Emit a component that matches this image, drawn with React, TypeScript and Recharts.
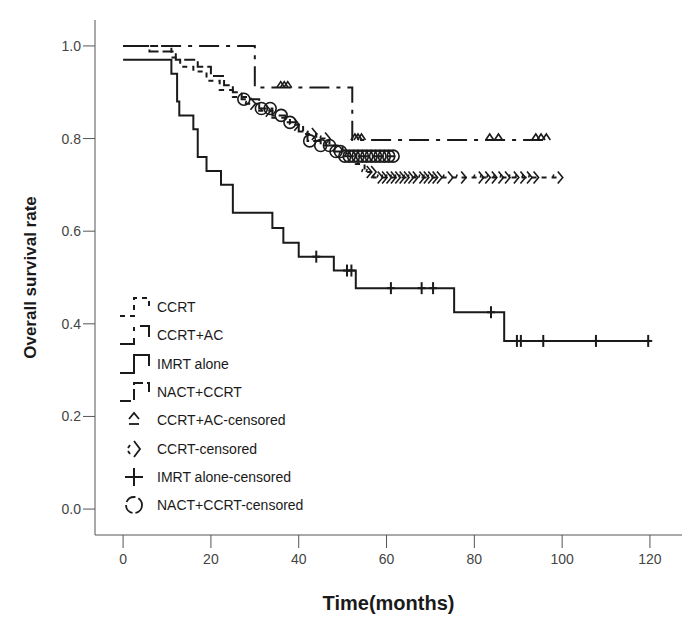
import React from "react";
import { ComposedChart, Line, Scatter, XAxis, YAxis } from "recharts";

// step curves: time (months) where survival changes, and the rate after that time
const ccrtAcTimes = [0, 30, 52.2, 97];
const ccrtAcRates = [1.0, 0.91, 0.797, 0.797];
const ccrtAcCensor = [35.9, 36.7, 37.5, 52.8, 53.5, 54.3, 83.5, 85.5, 94.0, 95.2, 96.4];

const nactTimes = [0, 6, 12, 17, 20, 23, 25, 27, 31, 34, 37, 40, 42, 45, 48, 50, 62];
const nactRates = [1.0, 0.988, 0.97, 0.955, 0.935, 0.915, 0.9, 0.885, 0.865, 0.85, 0.835, 0.815, 0.795, 0.785, 0.772, 0.762, 0.762];
const nactCensor = [27.5, 31.5, 33.5, 36, 38, 42.5, 45, 47, 48.5, 49.5, 50.5, 51.5, 52.5, 53.5, 54.5, 55.5, 56.5, 57.5, 58.5, 59.5, 60.5, 61.5];

const ccrtTimes = [0, 11, 13, 16, 19, 22, 25, 28, 31, 34, 38, 41, 44, 47, 50, 53, 55, 57, 99];
const ccrtRates = [1.0, 0.975, 0.955, 0.945, 0.925, 0.905, 0.89, 0.875, 0.86, 0.845, 0.83, 0.81, 0.8, 0.785, 0.768, 0.745, 0.728, 0.716, 0.716];
const ccrtCensor = [29, 32.5, 39, 43, 46, 55.5, 56.5, 58, 59, 60, 61, 62, 63, 64, 65, 66, 67.5, 68.5, 69.5, 70.5, 71.5, 74, 77, 81, 82.5, 84, 85.5, 87, 89, 90.5, 92, 93.5, 99];

const imrtTimes = [0, 11, 12.3, 12.8, 16, 17, 19, 22.3, 25, 34, 36.5, 40, 48, 53, 75.4, 86.8, 120];
const imrtRates = [0.97, 0.94, 0.88, 0.85, 0.82, 0.76, 0.73, 0.7, 0.64, 0.607, 0.575, 0.545, 0.515, 0.477, 0.425, 0.363, 0.363];
const imrtCensor = [44, 51, 52, 61, 68, 70.6, 83.8, 89.7, 90.6, 95.7, 107.7, 119.6];

const xTicks = [0, 20, 40, 60, 80, 100, 120];
const yTicks = [0, 0.2, 0.4, 0.6, 0.8, 1.0];

const FONT = '"Liberation Sans", Arial, sans-serif';
const INK = "#1a1a1a";

const toSteps = (times: number[], rates: number[]) =>
  times.map((t, i) => ({ t, s: rates[i] }));

const rateAt = (times: number[], rates: number[], t: number) => {
  let s = rates[0];
  for (let i = 0; i < times.length; i++) if (times[i] <= t) s = rates[i];
  return s;
};

const toCensor = (marks: number[], times: number[], rates: number[]) =>
  marks.map((t) => ({ t, s: rateAt(times, rates, t) }));

// censor mark shapes
const PlusMark = ({ cx, cy }: any) => (
  <g stroke={INK} strokeWidth={2}>
    <line x1={cx} y1={cy - 6} x2={cx} y2={cy + 6} />
    <line x1={cx - 4} y1={cy} x2={cx + 4} y2={cy} />
  </g>
);
const CaretMark = ({ cx, cy }: any) => (
  <path d={`M${cx - 4},${cy} L${cx},${cy - 6} L${cx + 4},${cy}`} fill="none" stroke={INK} strokeWidth={1.6} />
);
const ChevronMark = ({ cx, cy }: any) => (
  <g fill="none" stroke={INK} strokeWidth={1.6}>
    <path d={`M${cx},${cy - 6} L${cx + 5},${cy} L${cx},${cy + 6}`} />
    <path d={`M${cx - 4},${cy - 3} L${cx - 5},${cy}`} />
  </g>
);
const CircleMark = ({ cx, cy }: any) => (
  <circle cx={cx} cy={cy} r={6} fill="none" stroke={INK} strokeWidth={1.6} />
);

// legend versions of the marks, a little larger like the original key
const legendMarks: Record<string, (cx: number, cy: number) => React.ReactNode> = {
  caret: (cx, cy) => (
    <g fill="none" stroke={INK} strokeWidth={1.8}>
      <path d={`M${cx - 5},${cy - 1} L${cx},${cy - 7} L${cx + 5},${cy - 1}`} />
      <line x1={cx - 5} y1={cy + 4} x2={cx + 5} y2={cy + 4} />
    </g>
  ),
  chevron: (cx, cy) => (
    <g fill="none" stroke={INK} strokeWidth={1.8}>
      <path d={`M${cx},${cy - 8} L${cx + 6},${cy} L${cx},${cy + 8}`} />
      <path d={`M${cx - 4},${cy - 4} L${cx - 6},${cy - 1}`} />
      <path d={`M${cx - 6},${cy + 2} L${cx - 4},${cy + 5}`} />
    </g>
  ),
  plus: (cx, cy) => (
    <g stroke={INK} strokeWidth={2}>
      <line x1={cx} y1={cy - 9} x2={cx} y2={cy + 9} />
      <line x1={cx - 9} y1={cy} x2={cx + 9} y2={cy} />
    </g>
  ),
  circle: (cx, cy) => (
    <circle cx={cx} cy={cy} r={8} fill="none" stroke={INK} strokeWidth={1.8} strokeDasharray="11 3" />
  ),
};

const series = [
  { name: "CCRT", dash: "5 5" },
  { name: "CCRT+AC", dash: "20 7 4 7" },
  { name: "IMRT alone", dash: undefined },
  { name: "NACT+CCRT", dash: "11 4" },
];
const censorLegend = [
  { name: "CCRT+AC-censored", mark: "caret" },
  { name: "CCRT-censored", mark: "chevron" },
  { name: "IMRT alone-censored", mark: "plus" },
  { name: "NACT+CCRT-censored", mark: "circle" },
];

const rowStyle: React.CSSProperties = {
  display: "flex",
  alignItems: "center",
  height: 28.3,
  fontFamily: FONT,
  fontSize: 14,
  color: INK,
};

const LegendBox = () => (
  <div style={{ position: "absolute", left: 117, top: 293 }}>
    {series.map((s) => (
      <div key={s.name} style={rowStyle}>
        <svg width={40} height={26}>
          <path d="M3,22 H17 V4 H32 V15" fill="none" stroke={INK} strokeWidth={2} strokeDasharray={s.dash} />
        </svg>
        <span>{s.name}</span>
      </div>
    ))}
    {censorLegend.map(({ name, mark }) => (
      <div key={name} style={rowStyle}>
        <svg width={40} height={26}>
          {legendMarks[mark](17, 13)}
        </svg>
        <span>{name}</span>
      </div>
    ))}
  </div>
);

const YTitle = ({ viewBox }: any) => {
  const x = viewBox.x - 3;
  const y = viewBox.y + viewBox.height / 2;
  return (
    <text x={x} y={y} transform={`rotate(-90, ${x}, ${y})`} textAnchor="middle" dominantBaseline="middle"
      style={{ fontFamily: FONT, fontSize: 17, fontWeight: 700, fill: INK }}>
      Overall survival rate
    </text>
  );
};

const XTitle = ({ viewBox }: any) => (
  <text x={viewBox.x + viewBox.width / 2} y={610} textAnchor="middle"
    style={{ fontFamily: FONT, fontSize: 20, fontWeight: 700, fill: INK }}>
    Time(months)
  </text>
);

export default function App() {
  return (
    <div style={{ position: "absolute", left: 0, top: 0, width: 685, height: 628, background: "#fff" }}>
      <ComposedChart width={685} height={628} margin={{ top: 20, right: 3, left: 35, bottom: 33 }}>
        <XAxis
          type="number"
          dataKey="t"
          domain={[-6.4, 127.3]}
          ticks={xTicks}
          allowDataOverflow
          stroke="#555"
          tickSize={13}
          tickMargin={6}
          tick={{ fontSize: 14, fill: "#444", fontFamily: FONT }}
          height={60}
          label={<XTitle />}
        />
        <YAxis
          type="number"
          dataKey="s"
          domain={[-0.056, 1.056]}
          ticks={yTicks}
          allowDataOverflow
          tickFormatter={(v) => v.toFixed(1)}
          stroke="#555"
          tickSize={12}
          tick={{ fontSize: 14, fill: "#444", fontFamily: FONT }}
          width={60}
          label={<YTitle />}
        />
        <Line data={toSteps(ccrtAcTimes, ccrtAcRates)} dataKey="s" type="stepAfter" stroke={INK} strokeWidth={2}
          strokeDasharray="20 7 4 7" dot={false} isAnimationActive={false} />
        <Line data={toSteps(nactTimes, nactRates)} dataKey="s" type="stepAfter" stroke={INK} strokeWidth={2}
          strokeDasharray="11 4" dot={false} isAnimationActive={false} />
        <Line data={toSteps(ccrtTimes, ccrtRates)} dataKey="s" type="stepAfter" stroke={INK} strokeWidth={2}
          strokeDasharray="5 5" dot={false} isAnimationActive={false} />
        <Line data={toSteps(imrtTimes, imrtRates)} dataKey="s" type="stepAfter" stroke={INK} strokeWidth={2}
          dot={false} isAnimationActive={false} />
        <Scatter data={toCensor(ccrtAcCensor, ccrtAcTimes, ccrtAcRates)} dataKey="s" shape={CaretMark} isAnimationActive={false} />
        <Scatter data={toCensor(nactCensor, nactTimes, nactRates)} dataKey="s" shape={CircleMark} isAnimationActive={false} />
        <Scatter data={toCensor(ccrtCensor, ccrtTimes, ccrtRates)} dataKey="s" shape={ChevronMark} isAnimationActive={false} />
        <Scatter data={toCensor(imrtCensor, imrtTimes, imrtRates)} dataKey="s" shape={PlusMark} isAnimationActive={false} />
      </ComposedChart>
      <LegendBox />
    </div>
  );
}
